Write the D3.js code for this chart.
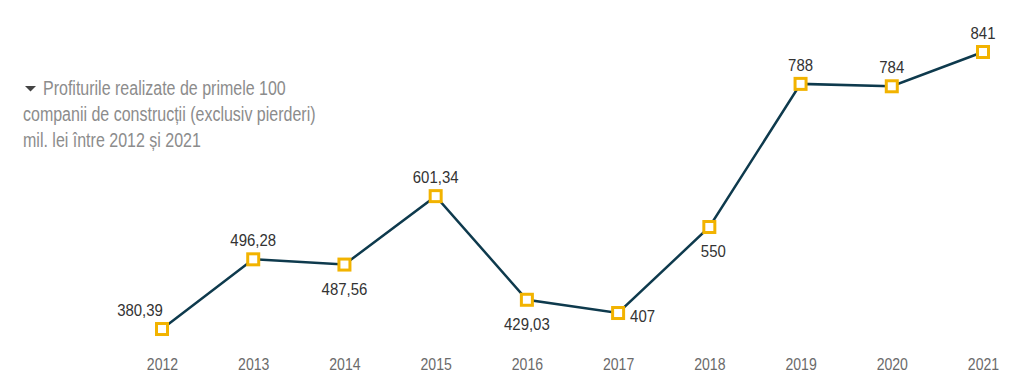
<!DOCTYPE html>
<html>
<head>
<meta charset="utf-8">
<script src="https://cdn.jsdelivr.net/npm/d3@7"></script>
<style>
  body { margin: 0; background: #fff; }
  svg text { font-family: "Liberation Sans", Arial, sans-serif; }
</style>
</head>
<body>
<div class="chart"></div>
<script>
'use strict';

var years   = ['2012', '2013', '2014', '2015', '2016', '2017', '2018', '2019', '2020', '2021'];
var profits = [380.39, 496.28, 487.56, 601.34, 429.03, 407, 550, 788, 784, 841];
var labels  = ['380,39', '496,28', '487,56', '601,34', '429,03', '407', '550', '788', '784', '841'];
var placing = ['topleft', 'top', 'bottom', 'top', 'bottom', 'right', 'bottom', 'top', 'top', 'top'];
var titleLines = [
  'Profiturile realizate de primele 100',
  'companii de construcții (exclusiv pierderi)',
  'mil. lei între 2012 și 2021'
];

var width  = 1024,
    height = 392;

var svg = d3.select('.chart')
  .append('svg')
  .attr('width', width)
  .attr('height', height);

var x = d3.scalePoint()
  .domain(years)
  .range([162, 983]);

var y = d3.scaleLinear()
  .domain([0, 841])
  .range([557.8, 52]);

// Year axis, no line or ticks
var axis = svg.append('g')
  .attr('transform', 'translate(0,359)')
  .call(d3.axisBottom(x).tickSize(0).tickPadding(0));
axis.select('.domain').remove();
axis.selectAll('text')
  .style('font-family', '"Liberation Sans", Arial, sans-serif')
  .style('font-size', '16px')
  .attr('transform', 'scale(0.88,1)')
  .attr('fill', '#6b6b6b');

// Title (condensed look)
var title = svg.append('g');
title.append('path')
  .attr('d', 'M25,86 L36,86 L30.5,91.5 Z')
  .attr('fill', '#444');
title.selectAll('text')
  .data(titleLines).enter()
  .append('text')
    .attr('transform', function(d, i) {
      return 'translate(' + (i === 0 ? 43 : 23) + ',' + (95 + i * 26) + ') scale(0.8,1)';
    })
    .attr('fill', '#8c8c8c')
    .style('font-size', '20px')
    .text(function(d) { return d; });

// Line
var line = d3.line()
  .x(function(d, i) { return x(years[i]); })
  .y(function(d) { return y(d); });

svg.append('path')
  .datum(profits)
  .attr('d', line)
  .attr('fill', 'none')
  .attr('stroke', '#0e3a4d')
  .attr('stroke-width', 2.5);

// Markers
svg.selectAll('rect.marker')
  .data(profits).enter()
  .append('rect')
    .attr('class', 'marker')
    .attr('x', function(d, i) { return x(years[i]) - 5.5; })
    .attr('y', function(d) { return y(d) - 5.5; })
    .attr('width', 11)
    .attr('height', 11)
    .attr('fill', '#fff')
    .attr('stroke', '#f2b300')
    .attr('stroke-width', 3);

// Value labels
svg.selectAll('text.value')
  .data(profits).enter()
  .append('text')
    .attr('class', 'value')
    .attr('transform', function(d, i) {
      var p = placing[i], tx, ty;
      if (p === 'topleft') tx = x(years[i]) - 22;
      else if (p === 'right') tx = x(years[i]) + 12;
      else tx = x(years[i]) + (i === 6 ? 4 : 0);
      if (p === 'bottom') ty = y(d) + 30;
      else if (p === 'right') ty = y(d) + 9;
      else ty = y(d) - 13;
      return 'translate(' + tx + ',' + ty + ') scale(0.88,1)';
    })
    .attr('text-anchor', function(d, i) { return placing[i] === 'right' ? 'start' : 'middle'; })
    .attr('fill', '#333')
    .style('font-size', '17px')
    .text(function(d, i) { return labels[i]; });
</script>
</body>
</html>
